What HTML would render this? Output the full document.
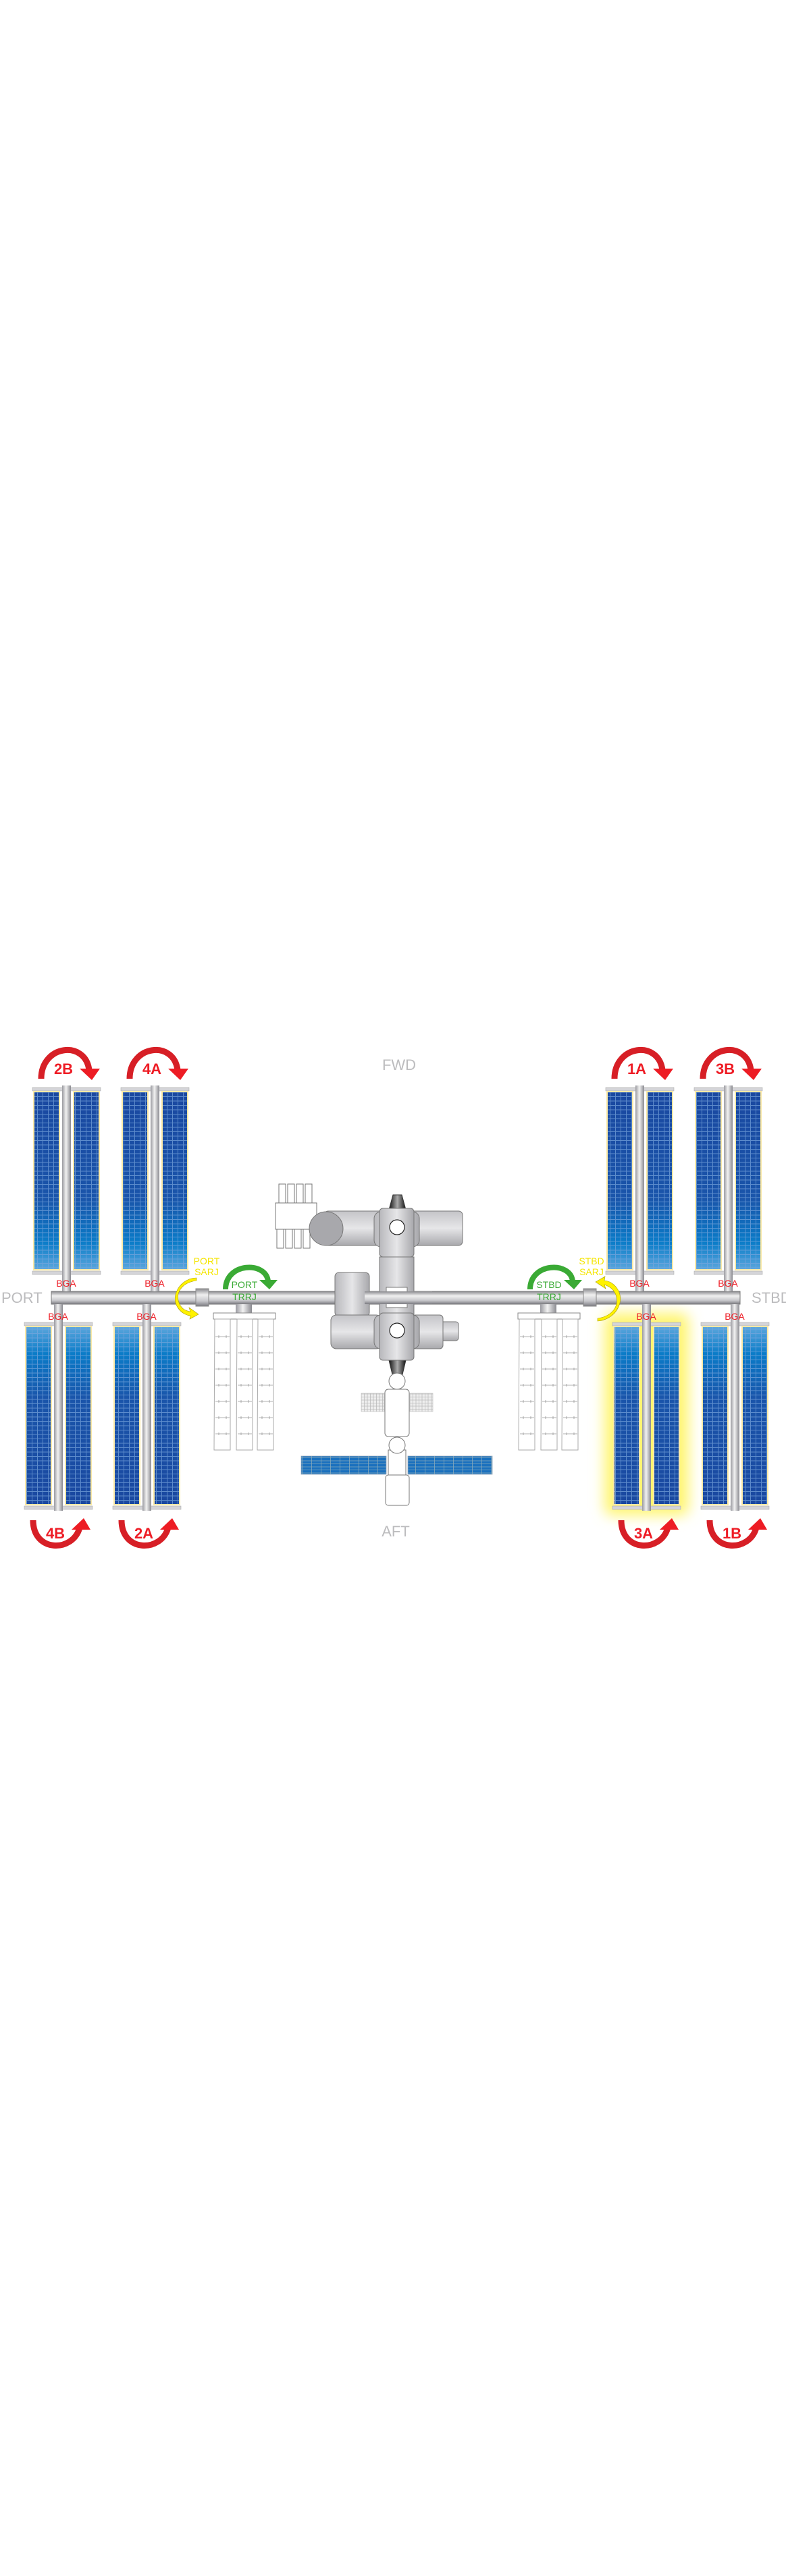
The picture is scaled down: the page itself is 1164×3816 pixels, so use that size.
<!DOCTYPE html>
<html><head><meta charset="utf-8"><style>
html,body{margin:0;padding:0;background:#fff;}
svg{display:block;}
text{font-family:"Liberation Sans",sans-serif;}
</style></head><body>
<svg id="s" width="1164" height="3816" viewBox="0 0 1164 3816" xmlns="http://www.w3.org/2000/svg">
<defs>
<linearGradient id="blUp" x1="0" y1="0" x2="0" y2="1"><stop offset="0" stop-color="#1a48a0"/><stop offset="0.6" stop-color="#1a55aa"/><stop offset="0.85" stop-color="#0a7cc8"/><stop offset="1" stop-color="#5aa6dc"/></linearGradient>
<linearGradient id="blDn" x1="0" y1="1" x2="0" y2="0"><stop offset="0" stop-color="#1a48a0"/><stop offset="0.6" stop-color="#1a55aa"/><stop offset="0.85" stop-color="#0a7cc8"/><stop offset="1" stop-color="#5aa6dc"/></linearGradient>
<pattern id="grid" width="8" height="6.5" patternUnits="userSpaceOnUse"><path d="M7.5 0V6.5M0 6H8" stroke="#7aa6dc" stroke-width="1" fill="none"/></pattern>
<linearGradient id="mast" x1="0" y1="0" x2="1" y2="0"><stop offset="0" stop-color="#9a9aa0"/><stop offset="0.45" stop-color="#f2f2f2"/><stop offset="1" stop-color="#8a8a90"/></linearGradient>
<linearGradient id="truss" x1="0" y1="0" x2="0" y2="1"><stop offset="0" stop-color="#8a8a8e"/><stop offset="0.35" stop-color="#f0f0f0"/><stop offset="0.7" stop-color="#c8c8cc"/><stop offset="1" stop-color="#7a7a80"/></linearGradient>
<linearGradient id="cylV" x1="0" y1="0" x2="1" y2="0"><stop offset="0" stop-color="#b8b8bc"/><stop offset="0.5" stop-color="#e6e6e8"/><stop offset="1" stop-color="#a8a8ac"/></linearGradient>
<linearGradient id="cylH" x1="0" y1="0" x2="0" y2="1"><stop offset="0" stop-color="#c4c4c8"/><stop offset="0.5" stop-color="#e6e6e8"/><stop offset="1" stop-color="#a8a8ac"/></linearGradient>
<linearGradient id="cone" x1="0" y1="0" x2="1" y2="0"><stop offset="0" stop-color="#111"/><stop offset="0.5" stop-color="#aaa"/><stop offset="1" stop-color="#111"/></linearGradient>
<filter id="blur" x="-30%" y="-30%" width="160%" height="160%"><feGaussianBlur stdDeviation="10"/></filter>
<pattern id="sgrid" width="4.5" height="4.5" patternUnits="userSpaceOnUse"><path d="M4 0V4.5M0 4H4.5" stroke="#bbb" stroke-width="0.8" fill="none"/></pattern>
<pattern id="bgrid" width="14" height="4.5" patternUnits="userSpaceOnUse"><path d="M13.5 0V4.5M0 4H14" stroke="#8ab" stroke-width="0.8" fill="none"/></pattern>
</defs>
<g id="g"></g>
</svg>
<script>
const arrayLabels=['2B','4A','1A','3B','4B','2A','3A','1B'];
const arrayLeft=[48,179,897,1028,36,167,907,1038];
const arrayUpper=[true,true,true,true,false,false,false,false];
const SVGNS='http://www.w3.org/2000/svg';
const G=document.getElementById('g');
function mk(tag,attrs,parent){const e=document.createElementNS(SVGNS,tag);for(const k in attrs)e.setAttribute(k,attrs[k]);(parent||G).appendChild(e);return e;}

const gl=mk('rect',{x:895,y:1945,width:125,height:300,rx:12,fill:'#fff570',filter:'url(#blur)'});



const tr=mk('rect',{x:76,y:1913,width:1020,height:19,fill:'url(#truss)',stroke:'#777','stroke-width':1});



arrayLabels.forEach((lab,i)=>{
  const x=arrayLeft[i],up=arrayUpper[i];
  const W=101;
  const g=mk('g',{});
  
  
  const top=up?1613:1961,bot=up?1885:2233;
  const mx=x+44;
  mk('rect',{x:x,y:top-2,width:W,height:5,fill:'#d4d4d8',stroke:'#aaa','stroke-width':0.6},g);
  mk('rect',{x:x,y:bot-2,width:W,height:5,fill:'#d4d4d8',stroke:'#aaa','stroke-width':0.6},g);
  [x+1,x+60].forEach(bx=>{
    mk('rect',{x:bx,y:top+3,width:40,height:bot-top-6,fill:'#fbe9a6'},g);
    mk('rect',{x:bx+2,y:top+5,width:36,height:bot-top-10,fill:up?'url(#blUp)':'url(#blDn)'},g);
    mk('rect',{x:bx+2,y:top+5,width:36,height:bot-top-10,fill:'url(#grid)',opacity:0.7},g);
  });
  mk('rect',{x:mx,y:up?1608:1932,width:13,height:up?(1913-1608):(2238-1932),fill:'url(#mast)'},g);
  const b=mk('text',{x:mx+6,y:up?1906:1955,'text-anchor':'middle','font-size':14,fill:'#ee1c25'},g);
  b.textContent='BGA';
  
  
  const a=mk('g',{},g);
  
  
  const cx=mx+6;
  if(up){
    mk('path',{d:`M${cx-37},1598 C${cx-37},1548 ${cx+28},1540 ${cx+34},1585`,stroke:'#d71f26','stroke-width':9,fill:'none'},a);
    mk('path',{d:`M${cx+20},1583 L${cx+50},1583 L${cx+38},1600 Z`,fill:'#ed1c24'},a);
  }else{
    mk('path',{d:`M${cx-37},2252 C${cx-37},2300 ${cx+22},2300 ${cx+32},2263`,stroke:'#d71f26','stroke-width':9,fill:'none'},a);
    mk('path',{d:`M${cx+20},2266 L${cx+48},2266 L${cx+38},2249 Z`,fill:'#ed1c24'},a);
  }
  const t=mk('text',{x:cx-4,y:up?1591:2279,'text-anchor':'middle','font-size':22,'font-weight':'bold',fill:'#ee1c25'},a);
  t.textContent=lab;
});

[[290,'PORT',264],[864,'STBD',888]].forEach(([bx,side,ax])=>{
  const s=mk('rect',{x:bx,y:1909,width:19,height:26,fill:'url(#truss)',stroke:'#888','stroke-width':1});
  
  
  const port=side==='PORT';
  const a=mk('path',{d:port?`M291,1897 C270,1900 258,1915 266,1932 C270,1940 276,1942 282,1943 L280,1937 L294,1947 L281,1954 L282,1949 C270,1948 256,1935 260,1918 C264,1902 278,1893 291,1893 Z`
    :`M885,1953 C906,1950 918,1935 912,1918 C908,1908 900,1905 895,1903 L897,1909 L882,1899 L896,1891 L895,1897 C910,1898 922,1915 918,1930 C914,1946 900,1956 885,1957 Z`,fill:'#fff200',stroke:'#a89a00','stroke-width':0.6});
  
  
  const lx=port?306:876;
  const t1=mk('text',{x:lx,y:1873,'text-anchor':'middle','font-size':14,fill:'#f5e500'});t1.textContent=side;
  
  
  const t2=mk('text',{x:lx,y:1889,'text-anchor':'middle','font-size':14,fill:'#f5e500'});t2.textContent='SARJ';
  
  
});

[[316,'PORT'],[767,'STBD']].forEach(([rx,side])=>{
  const g=mk('g',{});
  
  
  mk('rect',{x:rx+33,y:1932,width:24,height:14,fill:'url(#mast)'},g);
  mk('rect',{x:rx,y:1945,width:92,height:9,fill:'#fff',stroke:'#888','stroke-width':1},g);
  [0,33,64].forEach(o=>{
    mk('path',{d:`M${rx+o+2},1954 L${rx+o+1},2148 L${rx+o+25},2148 L${rx+o+25},1954 Z`,fill:'#fff',stroke:'#aaa','stroke-width':1},g);
    for(let k=0;k<7;k++){const y=1980+k*24;mk('path',{d:`M${rx+o+3},${y}H${rx+o+24}M${rx+o+8},${y-2}V${y+2}M${rx+o+19},${y-2}V${y+2}`,stroke:'#999','stroke-width':0.8},g);}
  });
  const ax=rx+53;
  const a=mk('g',{},g);
  
  
  mk('path',{d:`M${ax-35},1910 C${ax-35},1870 ${ax+25},1868 ${ax+28},1898`,stroke:'#3aaa35','stroke-width':8,fill:'none'},a);
  mk('path',{d:`M${ax+15},1896 L${ax+42},1896 L${ax+30},1910 Z`,fill:'#3aaa35'},a);
  const t1=mk('text',{x:rx+46,y:1908,'text-anchor':'middle','font-size':14,fill:'#3aaa35'});t1.textContent=side;
  
  
  const t2=mk('text',{x:rx+46,y:1926,'text-anchor':'middle','font-size':14,fill:'#3aaa35'});t2.textContent='TRRJ';
  
  
});

const C=mk('g',{});


const S='#777';
[413,426,439,452].forEach(x=>{mk('rect',{x:x,y:1754,width:10,height:28,fill:'#fff',stroke:S,'stroke-width':1},C);mk('rect',{x:x-3,y:1821,width:10,height:28,fill:'#fff',stroke:S,'stroke-width':1},C);});
mk('rect',{x:408,y:1782,width:61,height:39,fill:'#fff',stroke:S,'stroke-width':1},C);
mk('rect',{x:480,y:1794,width:205,height:51,rx:6,fill:'url(#cylH)',stroke:S,'stroke-width':1},C);
mk('circle',{cx:483,cy:1820,r:25,fill:'#a8a8ac',stroke:S,'stroke-width':1},C);
mk('rect',{x:496,y:1885,width:51,height:65,rx:6,fill:'url(#cylV)',stroke:S,'stroke-width':1},C);
mk('rect',{x:490,y:1948,width:75,height:50,rx:8,fill:'url(#cylH)',stroke:S,'stroke-width':1},C);
mk('rect',{x:646,y:1958,width:33,height:28,rx:4,fill:'url(#cylH)',stroke:S,'stroke-width':1},C);
mk('rect',{x:610,y:1948,width:46,height:50,rx:5,fill:'url(#cylH)',stroke:S,'stroke-width':1},C);
mk('path',{d:'M576,1792 L582,1770 L595,1770 L601,1792 Z',fill:'url(#cone)',stroke:'#333','stroke-width':1},C);
mk('path',{d:'M576,2015 L601,2015 L596,2036 L581,2036 Z',fill:'url(#cone)',stroke:'#333','stroke-width':1},C);
mk('rect',{x:562,y:1862,width:51,height:85,fill:'url(#cylV)',stroke:S,'stroke-width':1},C);
mk('rect',{x:554,y:1795,width:67,height:52,rx:10,fill:'url(#cylV)',stroke:S,'stroke-width':1},C);
mk('rect',{x:562,y:1790,width:51,height:72,rx:5,fill:'url(#cylV)',stroke:S,'stroke-width':1},C);
mk('rect',{x:554,y:1948,width:67,height:50,rx:10,fill:'url(#cylV)',stroke:S,'stroke-width':1},C);
mk('rect',{x:562,y:1945,width:51,height:70,rx:5,fill:'url(#cylV)',stroke:S,'stroke-width':1},C);
mk('circle',{cx:588,cy:1818,r:11,fill:'#fff',stroke:'#222','stroke-width':1.2},C);
mk('circle',{cx:588,cy:1971,r:11,fill:'#fff',stroke:'#222','stroke-width':1.2},C);
mk('rect',{x:572,y:1907,width:31,height:30,fill:'#fff',stroke:S,'stroke-width':1},C);
mk('rect',{x:540,y:1913,width:100,height:19,fill:'url(#truss)'},C);
mk('rect',{x:535,y:2064,width:34,height:27,fill:'#eee',stroke:'#bbb','stroke-width':0.6},C);
mk('rect',{x:535,y:2064,width:34,height:27,fill:'url(#sgrid)'},C);
mk('rect',{x:607,y:2064,width:34,height:27,fill:'#eee',stroke:'#bbb','stroke-width':0.6},C);
mk('rect',{x:607,y:2064,width:34,height:27,fill:'url(#sgrid)'},C);
mk('rect',{x:570,y:2058,width:36,height:70,rx:5,fill:'#fff',stroke:S,'stroke-width':1},C);
mk('circle',{cx:588,cy:2046,r:12,fill:'#fff',stroke:S,'stroke-width':1},C);
mk('rect',{x:446,y:2157,width:126,height:27,fill:'#1a70be',stroke:'#9ab','stroke-width':0.8},C);
mk('rect',{x:446,y:2157,width:126,height:27,fill:'url(#bgrid)'},C);
mk('rect',{x:604,y:2157,width:125,height:27,fill:'#1a70be',stroke:'#9ab','stroke-width':0.8},C);
mk('rect',{x:604,y:2157,width:125,height:27,fill:'url(#bgrid)'},C);
mk('rect',{x:575,y:2148,width:26,height:40,fill:'#fff',stroke:S,'stroke-width':1},C);
mk('circle',{cx:588,cy:2141,r:12,fill:'#fff',stroke:S,'stroke-width':1},C);
mk('rect',{x:571,y:2185,width:35,height:45,rx:4,fill:'#fff',stroke:S,'stroke-width':1},C);

[['FWD',591,1585,'middle','fwd-label'],['AFT',586,2276,'middle','aft-label'],['PORT',2,1930,'start','port-label'],['STBD',1113,1930,'start','stbd-label']].forEach(([t,x,y,an,n])=>{
  const e=mk('text',{x:x,y:y,'text-anchor':an,'font-size':22,fill:'#bcbcbe'});
  e.textContent=t;
  
  
});
</script>
</body></html>
